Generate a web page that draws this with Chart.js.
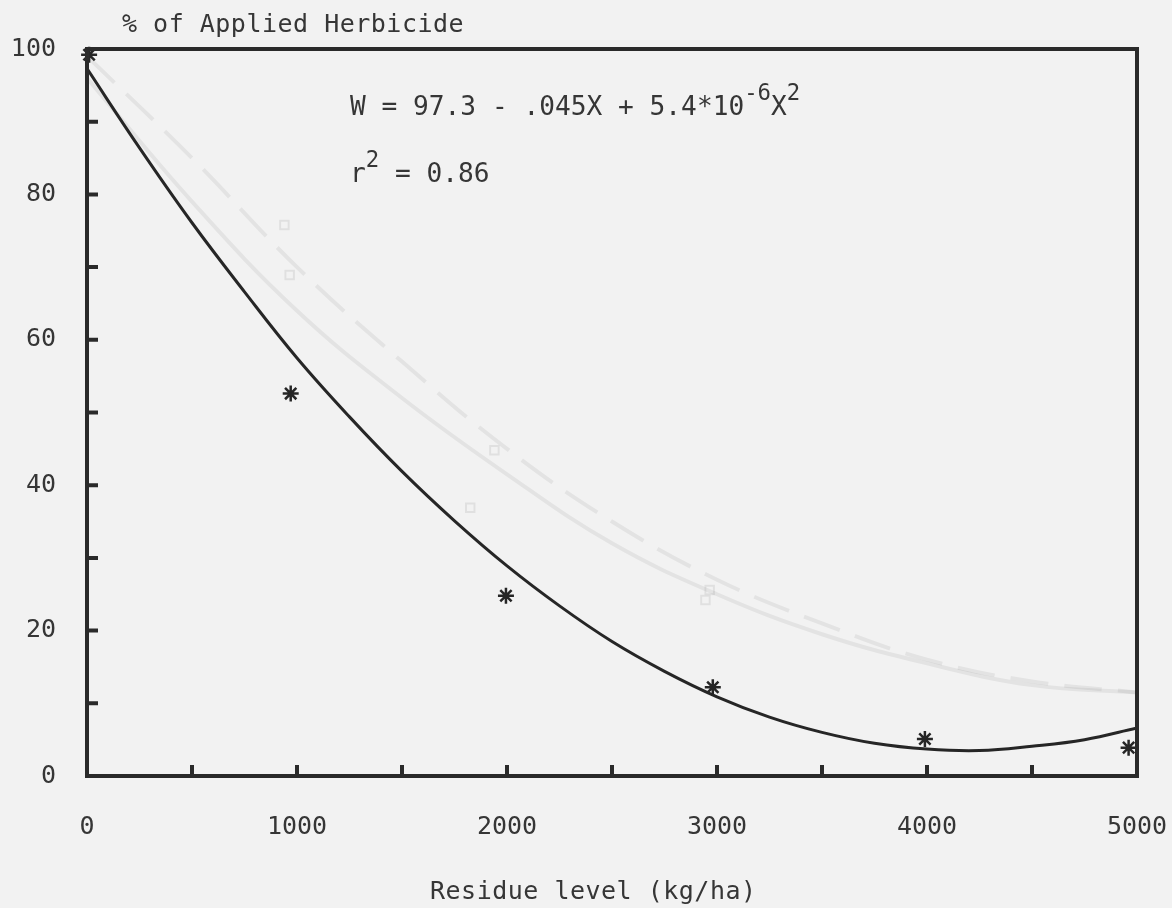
<!DOCTYPE html>
<html>
<head>
<meta charset="utf-8">
<title>Herbicide vs residue level</title>
<script src="https://cdn.jsdelivr.net/npm/chart.js@4.4.1/dist/chart.umd.min.js"></script>
<style>
  html, body { margin: 0; padding: 0; background: #f2f2f2; }
  #wrap { width: 1172px; height: 908px; }
</style>
</head>
<body>
<div id="wrap"><canvas id="chart" width="1172" height="908"></canvas></div>
<script>
// Values

// axis labels
const residueLabels = [0, 1000, 2000, 3000, 4000, 5000];
const percentLabels = [0, 20, 40, 60, 80, 100];

// observed points (asterisks)
const obsResidue = [10, 970, 1995, 2980, 3990, 4960];
const obsPercent = [99.2, 52.6, 24.8, 12.2, 5.1, 3.9];

// fitted curve W
const fitResidue = [0, 250, 500, 750, 1000, 1250, 1500, 1750, 2000, 2250, 2500,
                    2750, 3000, 3250, 3500, 3750, 4000, 4250, 4500, 4750, 5000];
const fitPercent = [97.3, 86.4, 76.1, 66.6, 57.5, 49.4, 41.9, 35.1, 28.9, 23.4, 18.5,
                    14.4, 10.9, 8.1, 6.0, 4.5, 3.7, 3.5, 4.1, 5.0, 6.6];

// faint show-through from the other side of the page
const ghostResidue = [0, 500, 1000, 1500, 2000, 2500, 3000, 3500, 4000, 4500, 5000];
const ghostDashed  = [99, 85, 70, 57, 45, 35, 27, 21, 16, 13, 11.5];
const ghostSolid   = [96, 79, 64, 52, 41.5, 32, 25, 19.5, 15.5, 12.5, 11.5];
const ghostSqResidue = [940, 965, 1940, 1825, 2965, 2945];
const ghostSqPercent = [75.8, 68.9, 44.8, 36.9, 25.6, 24.2];

const ink = '#262626';
const textInk = '#363636';
const monoFont = '"DejaVu Sans Mono", "Liberation Mono", monospace';

function pairs(xs, ys) {
    return xs.map((x, i) => ({ x: x, y: ys[i] }));
}

// frame with inward tick marks, like the original plot
const framePlugin = {
    id: 'frame',
    afterDatasetsDraw(chart) {
        const { ctx, chartArea: a, scales } = chart;
        ctx.save();
        ctx.strokeStyle = '#2a2a2a';
        ctx.lineWidth = 4;
        ctx.strokeRect(a.left, a.top, a.right - a.left, a.bottom - a.top);
        ctx.beginPath();
        scales.x.ticks.forEach(t => {
            if (t.value <= scales.x.min || t.value >= scales.x.max) return;
            const px = scales.x.getPixelForValue(t.value);
            ctx.moveTo(px, a.bottom);
            ctx.lineTo(px, a.bottom - 11);
        });
        scales.y.ticks.forEach(t => {
            if (t.value <= scales.y.min || t.value >= scales.y.max) return;
            const py = scales.y.getPixelForValue(t.value);
            ctx.moveTo(a.left, py);
            ctx.lineTo(a.left + 11, py);
        });
        ctx.stroke();
        ctx.restore();
    }
};

// titles and the regression equation
const textPlugin = {
    id: 'texts',
    afterDraw(chart) {
        const ctx = chart.ctx;
        ctx.save();
        ctx.fillStyle = textInk;
        ctx.textBaseline = 'alphabetic';
        ctx.letterSpacing = '0.5px';

        ctx.font = '25px ' + monoFont;
        ctx.fillText('% of Applied Herbicide', 122, 32);
        ctx.fillText('Residue level (kg/ha)', 430, 899);

        // equation, slightly condensed
        const main = '27px ' + monoFont;
        const sup = '23px ' + monoFont;
        ctx.letterSpacing = '0px';
        const sx = 0.97;
        function run(parts, x, base) {
            parts.forEach(p => {
                ctx.font = p.sup ? sup : main;
                ctx.save();
                ctx.translate(x, p.sup ? base - 15 : base);
                ctx.scale(sx, 1);
                ctx.fillText(p.t, 0, 0);
                ctx.restore();
                x += ctx.measureText(p.t).width * sx;
            });
        }
        run([{ t: 'W = 97.3 - .045X + 5.4*10' }, { t: '-6', sup: true },
             { t: 'X' }, { t: '2', sup: true }], 350, 115);
        run([{ t: 'r' }, { t: '2', sup: true }, { t: ' = 0.86' }], 350, 182);
        ctx.restore();
    }
};

const ghostLine = {
    showLine: true,
    pointRadius: 0,
    borderWidth: 4,
    tension: 0.4,
    borderColor: 'rgba(0, 0, 0, 0.06)',
    order: 5
};

new Chart(document.getElementById('chart'), {
    type: 'scatter',
    data: {
        datasets: [
            Object.assign({ data: pairs(ghostResidue, ghostDashed), borderDash: [38, 16] }, ghostLine),
            Object.assign({ data: pairs(ghostResidue, ghostSolid) }, ghostLine),
            {
                data: pairs(ghostSqResidue, ghostSqPercent),
                pointStyle: 'rect',
                pointRadius: 6,
                borderWidth: 2,
                borderColor: 'rgba(0, 0, 0, 0.07)',
                backgroundColor: 'rgba(0, 0, 0, 0)',
                order: 4
            },
            {
                label: 'W fit',
                data: pairs(fitResidue, fitPercent),
                showLine: true,
                pointRadius: 0,
                borderColor: ink,
                borderWidth: 3,
                tension: 0.4,
                order: 1
            },
            {
                label: 'Observed',
                data: pairs(obsResidue, obsPercent),
                pointStyle: 'star',
                pointRadius: 8,
                borderWidth: 2.5,
                borderColor: ink,
                backgroundColor: ink,
                clip: false,
                order: 0
            }
        ]
    },
    options: {
        responsive: false,
        animation: false,
        events: [],
        layout: { padding: { top: 49, right: 35, left: 0, bottom: 0 } },
        plugins: {
            legend: { display: false },
            tooltip: { enabled: false }
        },
        scales: {
            x: {
                type: 'linear',
                min: 0,
                max: 5000,
                grid: { display: false, drawTicks: false },
                border: { display: false },
                ticks: {
                    stepSize: 500,
                    autoSkip: false,
                    maxRotation: 0,
                    padding: 36,
                    color: textInk,
                    font: { family: monoFont, size: 25 },
                    callback: v => residueLabels.includes(v) ? String(v) : ''
                },
                afterFit: s => {
                    s.height = 132;
                    s.paddingLeft = 0;
                    s.paddingRight = 0;
                }
            },
            y: {
                min: 0,
                max: 100,
                grid: { display: false, drawTicks: false },
                border: { display: false },
                ticks: {
                    stepSize: 10,
                    autoSkip: false,
                    padding: 31,
                    color: textInk,
                    font: { family: monoFont, size: 25 },
                    callback: v => percentLabels.includes(v) ? String(v) : ''
                },
                afterFit: s => {
                    s.width = 87;
                    s.paddingTop = 0;
                    s.paddingBottom = 0;
                }
            }
        }
    },
    plugins: [framePlugin, textPlugin]
});
</script>
</body>
</html>
